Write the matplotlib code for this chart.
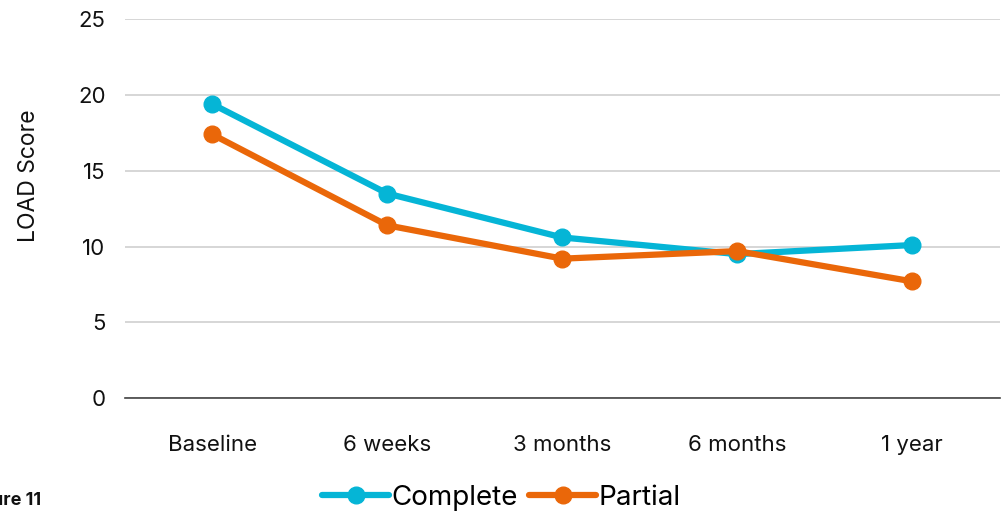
import matplotlib.pyplot as plt

plt.rcParams['font.family'] = ['Inter', 'DejaVu Sans']

timepoints = ['Baseline', '6 weeks', '3 months', '6 months', '1 year']
complete = [19.4, 13.5, 10.6, 9.5, 10.1]
partial = [17.4, 11.4, 9.2, 9.7, 7.7]

fig = plt.figure(figsize=(10.03, 5.13), dpi=100)
ax = fig.add_axes([0.1246, 0.2242, 0.872, 0.738])

x = range(len(timepoints))
ax.plot(x, complete, color='#05B5D6', linewidth=4.5, marker='o', markersize=12,
        label='Complete', solid_capstyle='round', zorder=3)
ax.plot(x, partial, color='#EA6709', linewidth=4.5, marker='o', markersize=12,
        label='Partial', solid_capstyle='round', zorder=4)

ax.set_xlim(-0.5, len(timepoints) - 0.5)
ax.set_ylim(0, 25)
ax.set_yticks([0, 5, 10, 15, 20, 25])
ax.set_xticks(list(x))
ax.set_xticklabels(timepoints)
ax.tick_params(axis='both', length=0, labelsize=16, colors='#111111')
ax.tick_params(axis='x', pad=27)
ax.tick_params(axis='y', pad=14)

ax.grid(axis='y', color='#cfcfcf', linewidth=1.2)
ax.set_axisbelow(True)
for side in ['top', 'right', 'left']:
    ax.spines[side].set_visible(False)
ax.spines['bottom'].set_color('#444444')
ax.spines['bottom'].set_linewidth(1.2)

ax.set_ylabel('LOAD Score', fontsize=16.5, color='#111111')
ax.yaxis.set_label_coords(-0.097, 0.587)

fig.legend(loc='center', bbox_to_anchor=(0.5, 0.03), ncol=2, frameon=False,
           fontsize=20, handlelength=2.4, handletextpad=0.1, columnspacing=0.4,
           borderaxespad=0)

fig.text(41 / 1003, 0.008, 'Figure 11', ha='right', va='bottom',
         fontsize=13, fontweight='bold', color='#111111')

fig.savefig('out.png', dpi=100)
